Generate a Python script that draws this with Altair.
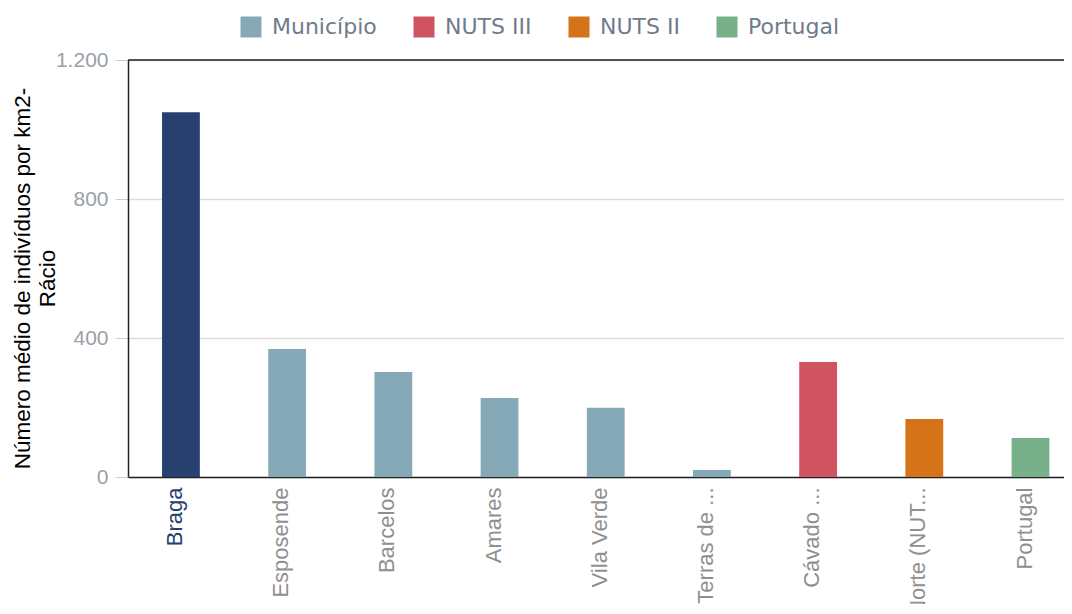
import altair as alt
import pandas as pd

# ---- data ----
rotulos = ["Braga", "Esposende", "Barcelos", "Amares", "Vila Verde",
           "Terras de ...", "Cávado ...", "Norte (NUT...", "Portugal"]
valores = [1050, 368, 302, 227, 199, 20, 331, 167, 112]
grupos = ["Município", "Município", "Município", "Município", "Município",
          "Município", "NUTS III", "NUTS II", "Portugal"]
legenda_dominio = ["Município", "NUTS III", "NUTS II", "Portugal"]
legenda_cores = ["#86a9b8", "#cf5360", "#d47317", "#77b089"]
cor_destaque = "#27406f"
destaque = "Braga"
y_ticks = [0, 400, 800, 1200]
titulo_y = ["Número médio de indivíduos por km2-", "Rácio"]

df = pd.DataFrame({"rotulo": rotulos, "valor": valores, "grupo": grupos})
df_topo = pd.DataFrame({"v": [y_ticks[-1]]})

W, H = 936, 417
yscale = alt.Scale(domain=[y_ticks[0], y_ticks[-1]], nice=False, zero=True)

bars = alt.Chart(df).mark_bar().encode(
    x=alt.X(
        "rotulo:N", sort=rotulos, title=None,
        scale=alt.Scale(paddingInner=0.644, paddingOuter=0.229, align=0.7, round=False),
        axis=alt.Axis(
            labelAngle=270, labelAlign="right", labelBaseline="middle",
            labelPadding=10, ticks=False, labelFontSize=22,
            labelFont="Liberation Sans", labelLimit=300,
            labelColor=alt.ExprRef(expr=f"datum.value == '{destaque}' ? '{cor_destaque}' : '#8f8f8f'"),
            domainColor="#222", domainWidth=1.5, labelOffset=-6,
        ),
    ),
    y=alt.Y(
        "valor:Q", scale=yscale, title=titulo_y,
        axis=alt.Axis(
            values=y_ticks,
            labelExpr="replace(format(datum.value, ',d'), ',', '.')",
            labelFontSize=21, labelFont="Liberation Sans", labelColor="#9aa0a8",
            labelPadding=7, tickSize=13, tickColor="#cccccc",
            domainColor="#222", domainWidth=1.5,
            gridColor="#dddddd", gridWidth=1.5,
            titleFont="Liberation Sans", titleFontSize=22.5, titleFontWeight="normal",
            titleColor="#000000", titleAngle=270, titleAlign="center",
            titleBaseline="top", titleX=-117, titleY=218, titleLineHeight=25,
        ),
    ),
    color=alt.when(alt.datum.rotulo == destaque).then(alt.value(cor_destaque)).otherwise(
        alt.Color(
            "grupo:N",
            scale=alt.Scale(domain=legenda_dominio, range=legenda_cores),
            legend=alt.Legend(
                title=None, orient="none", direction="horizontal", columns=4,
                legendX=112, legendY=-44, symbolType="square", symbolSize=441,
                symbolStrokeWidth=0, symbolOpacity=1,
                labelFont="DejaVu Sans", labelFontSize=22, labelColor="#6e7b8b",
                labelOffset=10, columnPadding=36, labelLimit=300,
            ),
        )
    ),
)

topo = alt.Chart(df_topo).mark_rule(color="#222", strokeWidth=1.5).encode(
    y=alt.Y("v:Q", scale=yscale)
)

chart = alt.layer(bars, topo).properties(
    width=W, height=H,
    autosize=alt.AutoSizeParams(type="none"),
    padding={"left": 120, "top": 52, "right": 0, "bottom": 127},
).configure_view(stroke=None)

chart.save("out.html", embed_options={"renderer": "svg", "actions": False})
